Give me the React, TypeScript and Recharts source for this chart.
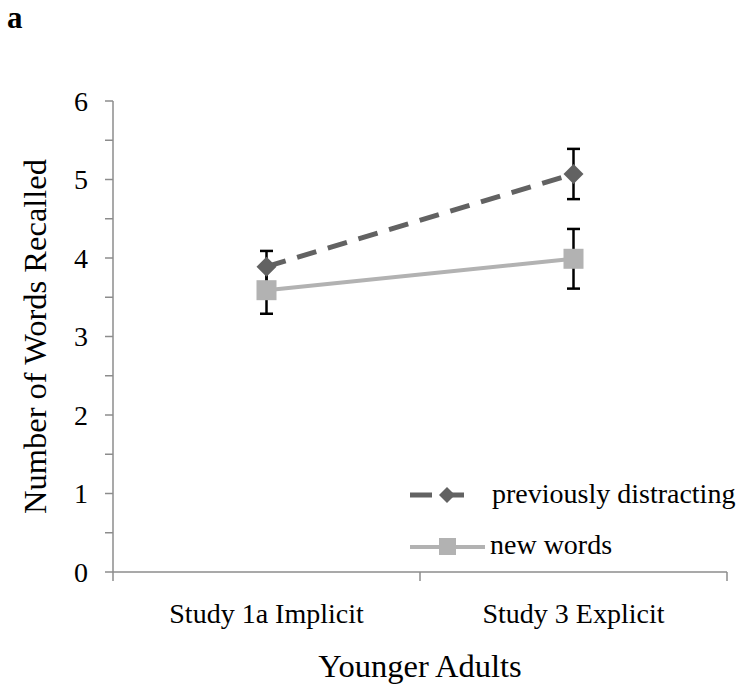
import React from 'react';
import { LineChart, Line, XAxis, YAxis, ErrorBar, Legend } from 'recharts';

const categories = ['Study 1a Implicit', 'Study 3 Explicit'];
const seriesNames = ['previously distracting', 'new words'];
const previouslyDistracting = [3.89, 5.07];
const previouslyDistractingErr = [0.2, 0.32];
const newWords = [3.59, 3.99];
const newWordsErr = [0.3, 0.38];
const yTicks = [0, 0.5, 1, 1.5, 2, 2.5, 3, 3.5, 4, 4.5, 5, 5.5, 6];
const xTicks = [0, 0.5, 1, 1.5, 2];
const xTitle = 'Younger Adults';
const yTitle = 'Number of Words Recalled';

const data = categories.map((c, i) => ({
  x: i + 0.5,
  name: c,
  pd: previouslyDistracting[i],
  pdErr: previouslyDistractingErr[i],
  nw: newWords[i],
  nwErr: newWordsErr[i],
}));

const FONT = '"Liberation Serif", "Times New Roman", serif';
const AXIS = '#8c8c8c';
const DARK = '#626262';
const LIGHT = '#b2b2b2';

const XTick = (props: any) => {
  const { x, y, payload } = props;
  const v = payload.value;
  if (Number.isInteger(v)) {
    return <line x1={x} y1={y} x2={x} y2={y + 9} stroke={AXIS} strokeWidth={1.5} />;
  }
  return (
    <text x={x} y={y + 51} textAnchor="middle" fontSize={28} fontFamily={FONT} fill="#000">
      {categories[Math.floor(v)]}
    </text>
  );
};

const XTitle = (props: any) => {
  const vb = props.viewBox || {};
  return (
    <text x={vb.x + vb.width / 2} y={vb.y + 105} textAnchor="middle" fontSize={32.5} fontFamily={FONT} fill="#000">
      {xTitle}
    </text>
  );
};

const YTitle = (props: any) => {
  const vb = props.viewBox || {};
  const cx = vb.x + 35;
  const cy = vb.y + vb.height / 2;
  return (
    <text
      x={cx}
      y={cy}
      transform={`rotate(-90, ${cx}, ${cy})`}
      textAnchor="middle"
      dominantBaseline="central"
      fontSize={32.5}
      fontFamily={FONT}
      fill="#000"
    >
      {yTitle}
    </text>
  );
};

const Diamond = (props: any) => {
  const { cx, cy } = props;
  if (cx == null || cy == null) return null;
  return <path d={`M${cx} ${cy - 10} L${cx + 10} ${cy} L${cx} ${cy + 10} L${cx - 10} ${cy} Z`} fill={DARK} />;
};

const Square = (props: any) => {
  const { cx, cy } = props;
  if (cx == null || cy == null) return null;
  return <rect x={cx - 10} y={cy - 10} width={20} height={20} fill={LIGHT} />;
};

const LegendContent = () => (
  <svg width={338} height={100} style={{ display: 'block' }}>
    <line x1={10} y1={25} x2={70} y2={25} stroke={DARK} strokeWidth={5} strokeDasharray="22 10" />
    <path d="M47 17 L55 25 L47 33 L39 25 Z" fill={DARK} />
    <text x={92} y={33} fontSize={28} fontFamily={FONT} fill="#000">{seriesNames[0]}</text>
    <line x1={10} y1={77} x2={85} y2={77} stroke={LIGHT} strokeWidth={4} />
    <rect x={39} y={68} width={17} height={17} fill={LIGHT} />
    <text x={90} y={84} fontSize={28} fontFamily={FONT} fill="#000">{seriesNames[1]}</text>
  </svg>
);

export default function App() {
  return (
    <div style={{ position: 'absolute', left: 0, top: 0, background: '#fff' }}>
      <LineChart width={738} height={687} data={data} margin={{ top: 101, right: 11, left: 0, bottom: 0 }}>
        <text x={7} y={28} fontSize={31} fontWeight="bold" fontFamily={FONT} fill="#000">a</text>
        <XAxis
          dataKey="x"
          type="number"
          domain={[0, 2]}
          ticks={xTicks}
          interval={0}
          tickLine={false}
          tickSize={0}
          tickMargin={0}
          tick={<XTick />}
          height={115}
          axisLine={{ stroke: AXIS, strokeWidth: 1.5 }}
          label={<XTitle />}
        />
        <YAxis
          type="number"
          domain={[0, 6]}
          ticks={yTicks}
          interval={0}
          width={113}
          tickSize={8}
          tickMargin={17}
          tickLine={{ stroke: AXIS, strokeWidth: 1.5 }}
          axisLine={{ stroke: AXIS, strokeWidth: 1.5 }}
          tickFormatter={(v: number) => (Number.isInteger(v) ? String(v) : '')}
          tick={{ fontSize: 28, fontFamily: FONT, fill: '#000' }}
          label={<YTitle />}
        />
        <Legend
          layout="vertical"
          align="center"
          verticalAlign="middle"
          content={<LegendContent />}
          wrapperStyle={{ left: 400, top: 470, width: 338, height: 100 }}
        />
        <Line
          dataKey="pd"
          name={seriesNames[0]}
          stroke={DARK}
          strokeWidth={5}
          strokeDasharray="20 12"
          dot={<Diamond />}
          activeDot={false}
          isAnimationActive={false}
        >
          <ErrorBar dataKey="pdErr" direction="y" width={6.5} stroke="#000" strokeWidth={2.5} />
        </Line>
        <Line
          dataKey="nw"
          name={seriesNames[1]}
          stroke={LIGHT}
          strokeWidth={4}
          dot={<Square />}
          activeDot={false}
          isAnimationActive={false}
        >
          <ErrorBar dataKey="nwErr" direction="y" width={6.5} stroke="#000" strokeWidth={2.5} />
        </Line>
      </LineChart>
    </div>
  );
}
